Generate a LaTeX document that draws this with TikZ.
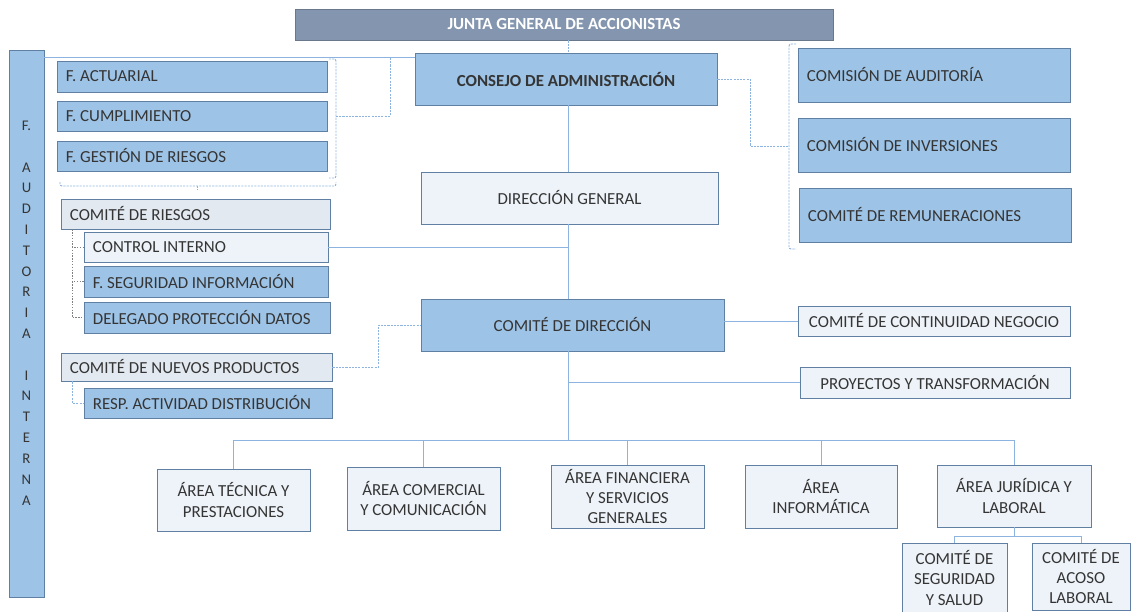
\documentclass[tikz,border=0pt]{standalone}
\usepackage{fontspec}
\setmainfont{Carlito}
\usetikzlibrary{arrows}
\definecolor{bluefill}{HTML}{9DC3E6}
\definecolor{palefill}{HTML}{EEF3F9}
\definecolor{greyfill}{HTML}{E3E9F1}
\definecolor{boxline}{HTML}{5F7FA3}
\definecolor{juntafill}{HTML}{8496AF}
\definecolor{linec}{HTML}{8DB4E0}
\definecolor{txt}{HTML}{353535}
\tikzstyle{every node}=[draw,shape=rectangle]

\begin{document}
\begin{tikzpicture}[x=0.025cm,y=-0.025cm]
\tikzset{box/.style={draw=boxline,fill=bluefill,text=txt,line width=0.6pt,
  font=\fontsize{12}{14.5}\selectfont,inner xsep=0.225cm,inner ysep=0pt,align=center},
  pale/.style={box,fill=palefill},
  sz/.style 2 args={minimum width=#1*0.025cm,minimum height=#2*0.025cm},
  link/.style={draw=linec,line width=0.7pt},
  dots/.style={link,dash pattern=on 1.5pt off 0.8pt},
  gdots/.style={draw=gray,line width=0.5pt,dash pattern=on 1pt off 1pt}}

\useasboundingbox (0,0) rectangle (1134,612);

\draw (564,24.5) node[box,fill=juntafill,draw=juntafill!80!black,sz={538}{31},text=white,
  font=\fontsize{12}{14}\selectfont\bfseries](junta){JUNTA GENERAL DE ACCIONISTAS};
\draw (26.5,323.5) node[box,sz={35}{547}](audit){};
\draw (26.5,313) node[draw=none,text=txt,align=center,
  font=\fontsize{10.5}{14.8}\selectfont](audtxt){F.\\[14.8pt]A\\U\\D\\I\\T\\O\\R\\I\\A\\[14.8pt]I\\N\\T\\E\\R\\N\\A};

\draw (566,79) node[box,sz={302}{52},font=\fontsize{12}{14}\selectfont\bfseries](consejo){CONSEJO DE ADMINISTRACIÓN};
\draw (192,76.5) node[box,sz={270}{31},text width=6.3cm,align=flush left](factuarial){F. ACTUARIAL};
\draw (192,116) node[box,sz={270}{30},text width=6.3cm,align=flush left](fcumpl){F. CUMPLIMIENTO};
\draw (192,156) node[box,sz={270}{30},text width=6.3cm,align=flush left](fgestion){F. GESTIÓN DE RIESGOS};

\draw (195.5,214) node[box,fill=greyfill,sz={269}{30},text width=6.275cm,align=flush left](comriesgos){COMITÉ DE RIESGOS};
\draw (206,247) node[pale,sz={244}{30},text width=5.65cm,align=flush left](ctrlint){CONTROL INTERNO};
\draw (206,281.5) node[box,sz={244}{31},text width=5.65cm,align=flush left](fseg){F. SEGURIDAD INFORMACIÓN};
\draw (207,317.5) node[box,sz={246}{31},text width=5.7cm,align=flush left](delegado){DELEGADO PROTECCIÓN DATOS};
\draw (196.5,367) node[box,fill=greyfill,sz={271}{28},text width=6.325cm,align=flush left](comnuevos){COMITÉ DE NUEVOS PRODUCTOS};
\draw (208,403) node[box,sz={248}{30},text width=5.75cm,align=flush left](resp){RESP. ACTIVIDAD DISTRIBUCIÓN};

\draw (569.5,198) node[pale,sz={297}{52}](direccion){DIRECCIÓN GENERAL};
\draw (572.5,325) node[box,sz={303}{52}](comdir){COMITÉ DE DIRECCIÓN};
\draw (934,321) node[pale,sz={272}{30},inner xsep=2pt](continuidad){COMITÉ DE CONTINUIDAD NEGOCIO};
\draw (935,382.5) node[pale,sz={270}{31}](proyectos){PROYECTOS Y TRANSFORMACIÓN};

\draw (934,75) node[box,sz={272}{54},text width=6.35cm,align=flush left](comaud){COMISIÓN DE AUDITORÍA};
\draw (934,145) node[box,sz={272}{54},text width=6.35cm,align=flush left](cominv){COMISIÓN DE INVERSIONES};
\draw (935,215) node[box,sz={272}{54},text width=6.35cm,align=flush left](comrem){COMITÉ DE REMUNERACIONES};

\draw (233.5,500) node[pale,sz={153}{62},inner xsep=2pt](areatec){ÁREA TÉCNICA Y\\PRESTACIONES};
\draw (423.5,498.5) node[pale,sz={153}{63},inner xsep=2pt](areacom){ÁREA COMERCIAL\\Y COMUNICACIÓN};
\draw (627.5,496.5) node[pale,sz={153}{63},inner xsep=2pt](areafin){ÁREA FINANCIERA\\Y SERVICIOS\\GENERALES};
\draw (821,496.5) node[pale,sz={152}{63},inner xsep=2pt](areainf){ÁREA\\INFORMÁTICA};
\draw (1014,496) node[pale,sz={154}{62},inner xsep=2pt](areajur){ÁREA JURÍDICA Y\\LABORAL};
\draw (954.5,578) node[pale,sz={105}{70},inner xsep=2pt](comseg){COMITÉ DE\\SEGURIDAD\\Y SALUD};
\draw (1081,576.5) node[pale,sz={98}{67},inner xsep=2pt](comacoso){COMITÉ DE\\ACOSO\\LABORAL};

\coordinate (tk) at (568,0);
\coordinate (ytop) at (0,57);
\coordinate (bus) at (0,440);
\coordinate (jb) at (0,536);
\coordinate (rt) at (72,0);

\draw[dots] (junta.south -| tk) -- (consejo.north -| tk);
\draw[link] (audit.east |- ytop) -- (consejo.west |- ytop);
\draw[link] (consejo.south -| tk) -- (direccion.north -| tk);
\draw[link] (direccion.south -| tk) -- (comdir.north -| tk);
\draw[link] (ctrlint.east) -- (ctrlint.east -| tk);

\draw[dots,rounded corners=1.5pt] (329,59) -| (336,178) -- (329,178);
\draw[dots,rounded corners=1.5pt] (60,182) |- (336,186) -- (336,182);
\draw[dots] (197,186) -- (197,190);
\draw[dots] (336,116) -| (390,57);

\draw[dots] (consejo.east) -| (750,146) -- (789,146);
\draw[dots,rounded corners=1.5pt] (796,44) -| (789,249) -- (796,249);

\draw[gdots] (rt |- comriesgos.south) |- (ctrlint.west);
\draw[gdots] (rt |- ctrlint.west) |- (fseg.west);
\draw[gdots] (rt |- fseg.west) |- (delegado.west);
\draw[dots] (rt |- comnuevos.south) |- (resp.west);
\draw[dots] (comnuevos.east) -- ++(46,0) |- (comdir.west);

\draw[link] (comdir.east |- continuidad.west) -- (continuidad.west);
\draw[link] (tk |- proyectos.west) -- (proyectos.west);
\draw[link] (comdir.south -| tk) -- (tk |- bus);
\draw[link] (areatec.north |- bus) -- (areajur.north |- bus);
\foreach \a in {areatec,areacom,areafin,areainf,areajur}
  \draw[link] (\a.north |- bus) -- (\a.north);

\draw[link] (areajur.south) -- (areajur.south |- jb);
\draw[link] (comseg.north |- jb) -- (comacoso.north |- jb);
\draw[link] (comseg.north |- jb) -- (comseg.north);
\draw[link] (comacoso.north |- jb) -- (comacoso.north);

\end{tikzpicture}
\end{document}
